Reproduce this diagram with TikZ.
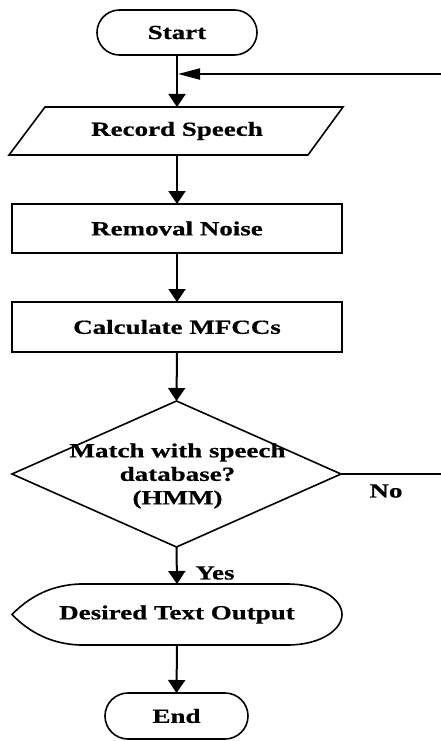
\documentclass[tikz,border=0pt]{standalone}
\usepackage{fontspec}
\setmainfont[FakeStretch=1.35,BoldFeatures={FakeBold=0.6}]{Liberation Serif}
\usetikzlibrary{shapes.geometric,shapes.misc,arrows.meta}
\begin{document}
\begin{tikzpicture}[x=1pt,y=-1pt,line join=miter,
  every node/.style={font=\bfseries\fontsize{20}{23.5}\selectfont,inner sep=0pt,outer sep=0pt},
  term/.style={rounded rectangle,draw,line width=1.6pt},
  procbox/.style={rectangle,draw,line width=1.6pt},
  outline/.style={draw,line width=1.6pt},
  txtbox/.style={align=center},
  flow/.style={line width=2pt,-{Triangle[width=17pt,length=13pt]}},
  looparrow/.style={line width=2pt,-{Triangle[width=11pt,length=22pt]}},
  plainline/.style={line width=2pt}]
\useasboundingbox (0,0) rectangle (441,741);

% Start
\node[term,minimum width=160pt,minimum height=45pt] (start) at (177,32.5) {Start};

% Record Speech (parallelogram)
\node[minimum width=200pt,minimum height=48pt] (rec) at (177,131) {Record Speech};
\draw[outline] (45,107) -- (343,107) -- (308,155) -- (9,155) -- cycle;

% Removal Noise
\node[procbox,minimum width=330pt,minimum height=49pt] (noise) at (177,228.5) {Removal Noise};

% Calculate MFCCs
\node[procbox,minimum width=330pt,minimum height=50pt] (mfcc) at (177,327) {Calculate MFCCs};

% Decision
\node[diamond,draw,line width=1.6pt,minimum width=329pt,minimum height=146pt] (match) at (176.5,474) {};
\node[txtbox] (matchtxt) at (177.5,476) {Match with speech\\database?\\(HMM)};

% Desired Text Output (display shape)
\node[minimum width=250pt,minimum height=61pt] (out) at (177,614.5) {Desired Text Output};
\draw[outline] (12,614.5) .. controls (30,596) and (52,585) .. (80,584)
  -- (287,584) .. controls (322,584) and (342,600) .. (342,614.5)
  .. controls (342,629) and (322,645) .. (287,645)
  -- (80,645) .. controls (52,644) and (30,633) .. (12,614.5) -- cycle;

% End
\node[term,minimum width=143pt,minimum height=46pt] (end) at (176.5,716) {End};

% connectors
\draw[flow] (start.south) -- (rec.north);
\draw[flow] (rec.south) -- (noise.north);
\draw[flow] (noise.south) -- (mfcc.north);
\draw[flow] (mfcc.south) -- (match.north);
\draw[flow] (match.south) -- (out.north);
\draw[flow] (out.south) -- (end.north);

\coordinate (loopR) at (441,74);
\coordinate (loopJ) at (178,74);
\draw[looparrow] (loopR) -- (loopJ);

\coordinate (noR) at (441,474);
\draw[plainline] (match.east) -- (noR);

\node (yes) at (215,573) {Yes};
\node (no) at (386,491) {No};
\end{tikzpicture}
\end{document}
